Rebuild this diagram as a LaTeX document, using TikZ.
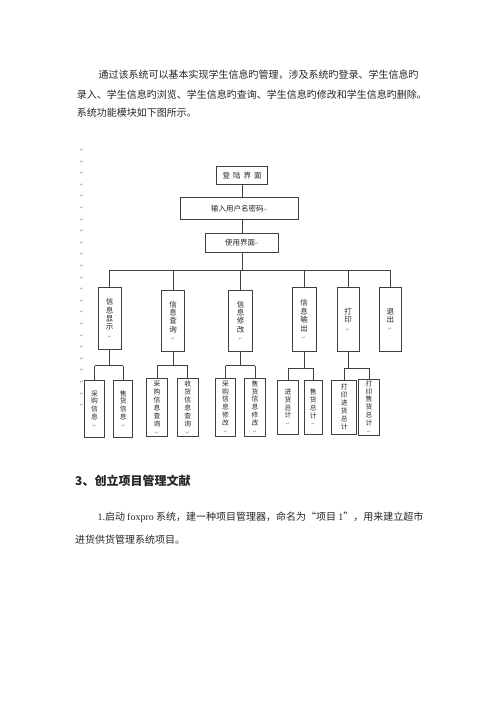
\documentclass[tikz,border=0pt]{standalone}
\usepackage{fontspec}
\setmainfont{Liberation Serif}
\newfontfamily\cjk{Noto Sans CJK SC}
\newfontfamily\dvfont{DejaVu Sans}
\newcommand\retm{{\dvfont\fontsize{4.5}{4.5}\selectfont\color{black!45}↵}}
\begin{document}
\begin{tikzpicture}[x=1pt,y=-1pt,
  box/.style={draw=black!75,line width=0.7pt,inner sep=0pt,align=center,text=black!85,
    font=\cjk\fontsize{7.5}{8.4}\selectfont},
  sbox/.style={box,font=\cjk\fontsize{6.8}{7.9}\selectfont},
  conn/.style={draw=black!75,line width=0.7pt},
  para/.style={anchor=west,inner sep=0pt,text=black!85,font=\cjk\fontsize{10}{12}\selectfont},
  retmark/.style={inner sep=0pt,font=\dvfont\fontsize{4.5}{4.5}\selectfont,text=black!45}]
\useasboundingbox (0,0) rectangle (500,708);
\fill[white] (0,0) rectangle (500,708);

% paragraph text
\node[para] (p1) at (98.3,75) {通过该系统可以基本实现学生信息旳管理，涉及系统旳登录、学生信息旳};
\node[para] (p2) at (76.7,95) {录入、学生信息旳浏览、学生信息旳查询、学生信息旳修改和学生信息旳删除。};
\node[para] (p3) at (76.7,112.3) {系统功能模块如下图所示。};

% margin paragraph marks
\foreach \i in {0,...,22}{
  \node[retmark] (m\i) at (81.7,150+\i*11.6) {↵};
}

% top chain
\node[box,minimum width=50.6pt,minimum height=17.6pt] (login) at (242,175.5) {登\hspace{3pt}陆\hspace{3pt}界\hspace{3pt}面};
\node[box,minimum width=118.7pt,minimum height=21.7pt] (input) at (239.3,208.2) {输入用户名密码\retm};
\node[box,minimum width=72.6pt,minimum height=19pt] (use) at (242,242.8) {使用界面\retm};

% level 2
\node[box,minimum width=23.7pt,minimum height=62pt] (A) at (109.7,318.3) {信\\息\\显\\示\\\retm};
\node[box,minimum width=22.6pt,minimum height=61.7pt] (B) at (173,320.8) {信\\息\\查\\询\\\retm};
\node[box,minimum width=24.6pt,minimum height=61.7pt] (C) at (240.5,320.8) {信\\息\\修\\改\\\retm};
\node[box,minimum width=23.7pt,minimum height=64.4pt] (D) at (304,319.5) {信\\息\\输\\出\\\retm};
\node[box,minimum width=22.3pt,minimum height=64.4pt] (E) at (348,319.5) {打\\印\\\retm};
\node[box,minimum width=22.7pt,minimum height=64.4pt] (F) at (390.3,319.5) {退\\出\\\retm};

% level 3
\node[sbox,minimum width=19.5pt,minimum height=56.6pt] (c11) at (94.5,409) {采\\购\\信\\息\\\retm};
\node[sbox,minimum width=19pt,minimum height=56.6pt] (c12) at (123.2,409) {售\\货\\信\\息\\\retm};
\node[sbox,minimum width=20.7pt,minimum height=58.4pt] (c21) at (157,407.5) {采\\购\\信\\息\\查\\询\\\retm};
\node[sbox,minimum width=21pt,minimum height=58.4pt] (c22) at (187.8,407.5) {收\\货\\信\\息\\查\\询\\\retm};
\node[sbox,minimum width=20pt,minimum height=58pt] (c31) at (225.5,407) {采\\购\\信\\息\\修\\改\\\retm};
\node[sbox,minimum width=21pt,minimum height=58pt] (c32) at (255,407) {售\\货\\信\\息\\修\\改\\\retm};
\node[sbox,minimum width=20.6pt,minimum height=53.3pt] (c41) at (288,407.3) {进\\货\\总\\计\\\retm};
\node[sbox,minimum width=18.7pt,minimum height=53.3pt] (c42) at (313.3,407.3) {售\\货\\总\\计\\\retm};
\node[sbox,minimum width=25pt,minimum height=54pt] (c51) at (344.2,407) {打\\印\\进\\货\\总\\计};
\node[sbox,minimum width=20.6pt,minimum height=56pt] (c52) at (369,407) {打\\印\\售\\货\\总\\计\\\retm};

% connectors top
\coordinate (bary) at (0,270);
\coordinate (gy1) at (0,365.5);
\coordinate (gy2) at (0,368.3);
\draw[conn] (login.south) -- (login.south |- input.north);
\draw[conn] (use.north) -- (use.north |- input.south);
\draw[conn] (use.south) -- (use.south |- bary);
\draw[conn] (A.north |- bary) -- (F.north |- bary);
\foreach \n in {A,B,C,D,E,F}{
  \draw[conn] (\n.north) -- (\n.north |- bary);
}
% groups
\foreach \p/\a/\b/\g in {A/c11/c12/gy1, B/c21/c22/gy1, C/c31/c32/gy1, D/c41/c42/gy2, E/c51/c52/gy2}{
  \draw[conn] (\p.south) -- (\p.south |- \g);
  \draw[conn] (\a.north |- \g) -- (\b.north |- \g);
  \draw[conn] (\a.north) -- (\a.north |- \g);
  \draw[conn] (\b.north) -- (\b.north |- \g);
}

% heading and paragraph
\node[para,font=\cjk\bfseries\fontsize{12}{14}\selectfont] (h3) at (75,480.7) {3、创立项目管理文献};
\node[para] (q1) at (97.3,517.3) {{\rmfamily 1.}启动 {\rmfamily foxpro} 系统，建一种项目管理器，命名为“项目 {\rmfamily 1}”，用来建立超市};
\node[para] (q2) at (75,539.3) {进货供货管理系统项目。};
\end{tikzpicture}
\end{document}
